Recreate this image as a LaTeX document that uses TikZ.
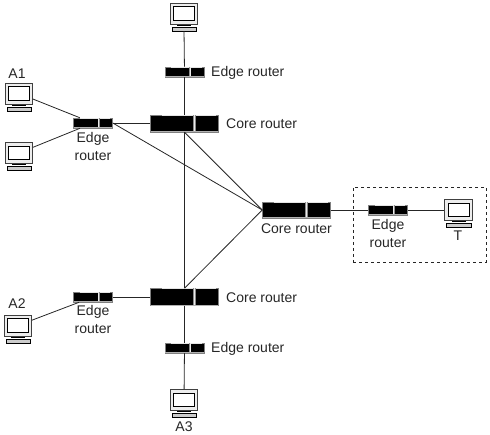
\documentclass[tikz,border=0pt]{standalone}
\usepackage{fontspec}
\setmainfont{Liberation Sans}
\usetikzlibrary{calc}
\tikzset{
  lbl/.style={font=\fontsize{14}{18}\selectfont,text=black!85,inner sep=0pt,align=center},
  link/.style={draw=black!85,line width=0.8pt},
  routerbox/.style={draw=black!50,line width=0.5pt,fill=black,inner sep=0pt,rectangle},
  monitor/.style={draw=black!75,line width=0.6pt,fill=black!7,inner sep=0pt,minimum width=27.5pt,minimum height=21pt,rectangle},
  kbd/.style={draw=black,line width=0.5pt,fill=black!20,inner sep=0pt,minimum width=24.5pt,minimum height=4pt,rectangle}
}
\newcommand{\routerat}[5]{% name,x,y,w,h
  \node[routerbox,minimum width=#4pt,minimum height=#5pt] (#1) at (#2,#3) {};
  % dividing bar
  \fill[black!45] ($(#1.north west)+(0.63*#4,0)$) rectangle ++(0.05*#4,#5);
  \fill[black!8] ($(#1.north west)+(0.645*#4,0)$) rectangle ++(0.02*#4,#5);
  % light strips along the top and bottom
  \fill[black!10] ($(#1.north west)+(0.17*#4,0.2)$) rectangle ($(#1.north west)+(0.63*#4,1.1)$);
  \fill[black!10] ($(#1.north west)+(0.68*#4,0.2)$) rectangle ($(#1.north east)+(-2.5,1.1)$);
  \fill[black!30] ($(#1.south west)+(0.3,-1.1)$) rectangle ($(#1.south east)+(-0.3,-0.2)$);
}
\newcommand{\pcat}[3]{% name,x,y (monitor centre)
  \node[monitor] (#1) at (#2,#3) {};
  \draw[black,line width=1pt,fill=white] ($(#1.north west)+(4,4)$) rectangle ($(#1.south east)+(-3.5,-4)$);
  \fill[black] ($(#1.south)+(-7,0.6)$) rectangle ($(#1.south)+(7,1.6)$);
  \node[kbd] (#1b) at ($(#1.south)+(0,4.5)$) {};
}
\begin{document}
\begin{tikzpicture}[x=1pt,y=-1pt]
\useasboundingbox (0,0) rectangle (490,435);
% routers
\routerat{eL1}{93}{123}{39}{10}
\routerat{eT}{184.5}{72}{39}{10}
\routerat{cT}{184.5}{123.5}{68}{17}
\routerat{cR}{296.5}{210}{68}{16}
\routerat{eR}{388}{210}{39}{10}
\routerat{cB}{184.5}{297}{68}{17}
\routerat{eL2}{93}{297}{39}{10}
\routerat{eB}{184.5}{348}{39}{10}
% computers
\pcat{pT}{184}{13.5}
\pcat{pA1}{19}{93.5}
\pcat{pL}{19}{153}
\pcat{pA2}{18}{325.5}
\pcat{pA3}{184}{400}
\pcat{pR}{458.5}{210}
% connectors
\draw[link] (pTb) -- (eT);
\draw[link] (eT) -- (cT);
\draw[link] (pA1) -- (eL1);
\draw[link] (pL) -- (eL1);
\draw[link] (eL1.east) -- (cT.west |- eL1.east);
\draw[link] (eL1.east) -- (cR.west);
\draw[link] (cT.south) -- (cR.west);
\draw[link] (cB.north) -- (cR.west);
\draw[link] (cT) -- (cB);
\draw[link] (cR) -- (eR);
\draw[link] (eR) -- (pR);
\draw[link] (pA2) -- (eL2);
\draw[link] (eL2) -- (cB);
\draw[link] (cB) -- (eB);
\draw[link] (eB) -- (pA3);
% dashed group
\node[draw=black!85,dashed,line width=0.6pt,inner sep=0pt,minimum width=133pt,minimum height=75pt] (grp) at (419.5,224.5) {};
% labels
\node[lbl] (tA1) at (17,73.5) {A1};
\node[lbl] (tA2) at (17,304) {A2};
\node[lbl] (tA3) at (184,427) {A3};
\node[lbl] (tT) at (458,236) {T};
\node[lbl] (tEL1) at (93,146.5) {Edge\\router};
\node[lbl] (tEL2) at (93,319.5) {Edge\\router};
\node[lbl] (tER) at (388,233) {Edge\\router};
\node[lbl,anchor=west] (tET) at (211,72.5) {Edge router};
\node[lbl,anchor=west] (tEB) at (211,348.5) {Edge router};
\node[lbl,anchor=west] (tCT) at (226,123.5) {Core router};
\node[lbl,anchor=west] (tCB) at (226,297.5) {Core router};
\node[lbl] (tCR) at (296.5,228.5) {Core router};
\end{tikzpicture}
\end{document}
